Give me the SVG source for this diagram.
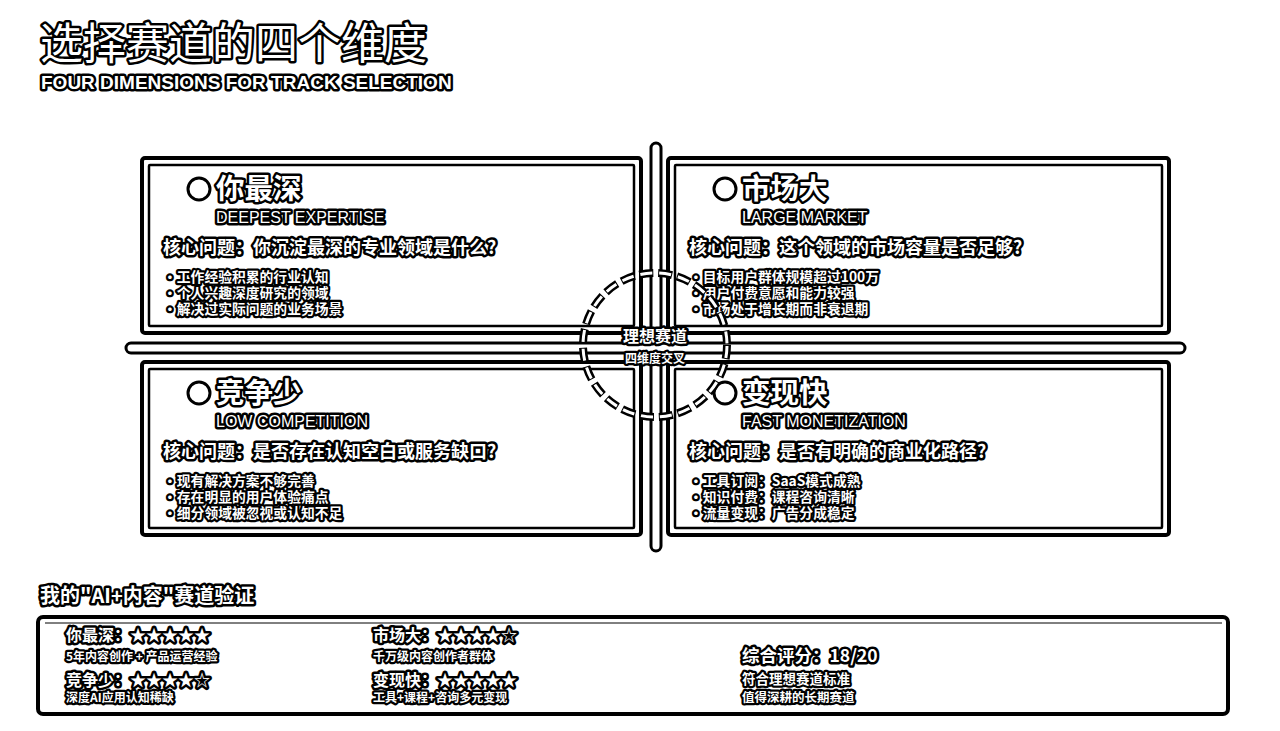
<svg xmlns="http://www.w3.org/2000/svg" width="1280" height="731" viewBox="0 0 1280 731">
  <style>
    .t { fill: #fff; stroke: #000; paint-order: stroke; stroke-linejoin: round; font-family: "Noto Sans CJK SC", "Liberation Sans", sans-serif; font-weight: bold; }
    .en { fill: #fff; stroke: #000; paint-order: stroke; stroke-linejoin: round; font-family: "Liberation Sans", "Noto Sans CJK SC", sans-serif; }
    .outer { fill: #fff; stroke: #000; stroke-width: 4; }
    .inner { fill: none; stroke: #000; stroke-width: 2.5; }
    .icon { fill: #fff; stroke: #000; stroke-width: 3; }
    .ttl { font-size: 28.5px; stroke-width: 5; }
    .sub { font-size: 16px; stroke-width: 5; }
    .q { font-size: 18px; stroke-width: 5; }
    .b { font-size: 13.8px; stroke-width: 4.5; }
    .bar { fill: #fff; stroke: #000; stroke-width: 3; }
    .row { font-size: 16px; stroke-width: 5; }
    .rs { font-size: 12px; stroke-width: 4.5; }
  </style>
  <rect width="1280" height="731" fill="#fff"/>

  <g id="header">
    <text class="t" x="40" y="59" font-size="43" stroke-width="5" style="font-weight:normal">选择赛道的四个维度</text>
    <text class="en" x="41" y="89" font-size="19" font-weight="bold" stroke-width="5">FOUR DIMENSIONS FOR TRACK SELECTION</text>
  </g>

  <g id="card-deep" transform="translate(142,158)">
    <rect class="outer" x="0" y="0" width="499" height="175" rx="3"/>
    <rect class="inner" x="7" y="7" width="485" height="161" rx="1"/>
    <circle class="icon" cx="57" cy="31" r="11"/>
    <text class="t ttl" x="74" y="41">你最深</text>
    <text class="en sub" x="74" y="65">DEEPEST EXPERTISE</text>
    <text class="t q" x="21" y="96">核心问题：你沉淀最深的专业领域是什么?</text>
    <text class="t b" x="21" y="124"><tspan x="21">•工作经验积累的行业认知</tspan><tspan x="21" dy="16">•个人兴趣深度研究的领域</tspan><tspan x="21" dy="16">•解决过实际问题的业务场景</tspan></text>
  </g>

  <g id="card-market" transform="translate(668,158)">
    <rect class="outer" x="0" y="0" width="501" height="175" rx="3"/>
    <rect class="inner" x="7" y="7" width="487" height="161" rx="1"/>
    <circle class="icon" cx="57" cy="31" r="11"/>
    <text class="t ttl" x="74" y="41">市场大</text>
    <text class="en sub" x="74" y="65">LARGE MARKET</text>
    <text class="t q" x="21" y="96">核心问题：这个领域的市场容量是否足够?</text>
    <text class="t b" x="21" y="124"><tspan x="21">•目标用户群体规模超过100万</tspan><tspan x="21" dy="16">•用户付费意愿和能力较强</tspan><tspan x="21" dy="16">•市场处于增长期而非衰退期</tspan></text>
  </g>

  <g id="card-competition" transform="translate(142,362)">
    <rect class="outer" x="0" y="0" width="499" height="173" rx="3"/>
    <rect class="inner" x="7" y="7" width="485" height="159" rx="1"/>
    <circle class="icon" cx="57" cy="31" r="11"/>
    <text class="t ttl" x="74" y="41">竞争少</text>
    <text class="en sub" x="74" y="65">LOW COMPETITION</text>
    <text class="t q" x="21" y="96">核心问题：是否存在认知空白或服务缺口?</text>
    <text class="t b" x="21" y="124"><tspan x="21">•现有解决方案不够完善</tspan><tspan x="21" dy="16">•存在明显的用户体验痛点</tspan><tspan x="21" dy="16">•细分领域被忽视或认知不足</tspan></text>
  </g>

  <g id="card-monetization" transform="translate(668,362)">
    <rect class="outer" x="0" y="0" width="501" height="173" rx="3"/>
    <rect class="inner" x="7" y="7" width="487" height="159" rx="1"/>
    <circle class="icon" cx="57" cy="31" r="11"/>
    <text class="t ttl" x="74" y="41">变现快</text>
    <text class="en sub" x="74" y="65">FAST MONETIZATION</text>
    <text class="t q" x="21" y="96">核心问题：是否有明确的商业化路径?</text>
    <text class="t b" x="21" y="124"><tspan x="21">•工具订阅：SaaS模式成熟</tspan><tspan x="21" dy="16">•知识付费：课程咨询清晰</tspan><tspan x="21" dy="16">•流量变现：广告分成稳定</tspan></text>
  </g>

  <g id="connectors">
    <rect class="bar" x="651" y="143" width="10" height="408" rx="5"/>
    <rect class="bar" x="126" y="343" width="1059" height="10" rx="5"/>
    <circle cx="655" cy="345" r="72" fill="none" stroke="#000" stroke-width="8" stroke-dasharray="14 5"/>
    <circle cx="655" cy="345" r="72" fill="none" stroke="#fff" stroke-width="3" stroke-dasharray="12 7" stroke-dashoffset="-1"/>
  </g>

  <g id="center">
    <text class="t" x="655" y="342" font-size="16" stroke-width="5" text-anchor="middle">理想赛道</text>
    <text class="t" x="655" y="363" font-size="12" stroke-width="4.5" text-anchor="middle">四维度交叉</text>
  </g>

  <g id="verification">
    <text class="t" x="40" y="603" font-size="20" stroke-width="5">我的"AI+内容"赛道验证</text>
    <rect x="38" y="617" width="1190" height="97" rx="5" fill="#fff" stroke="#000" stroke-width="4"/>
    <line x1="45" y1="623" x2="1222" y2="623" stroke="#000" stroke-width="1"/>
    <text class="t" x="66" y="641"><tspan class="row" x="66">你最深：★★★★★</tspan><tspan class="rs" x="66" dy="20">5年内容创作 + 产品运营经验</tspan></text>
    <text class="t" x="66" y="686"><tspan class="row" x="66">竞争少：★★★★☆</tspan><tspan class="rs" x="66" dy="16">深度AI应用认知稀缺</tspan></text>
    <text class="t" x="373" y="641"><tspan class="row" x="373">市场大：★★★★☆</tspan><tspan class="rs" x="373" dy="20">千万级内容创作者群体</tspan></text>
    <text class="t" x="373" y="686"><tspan class="row" x="373">变现快：★★★★★</tspan><tspan class="rs" x="373" dy="16">工具+课程+咨询多元变现</tspan></text>
    <text class="t" x="742" y="662"><tspan x="742" font-size="17.5" stroke-width="5">综合评分：18/20</tspan><tspan x="742" dy="22" font-size="13.5" stroke-width="4.5">符合理想赛道标准</tspan><tspan x="742" dy="18" font-size="12.5" stroke-width="4.5">值得深耕的长期赛道</tspan></text>
  </g>
</svg>
